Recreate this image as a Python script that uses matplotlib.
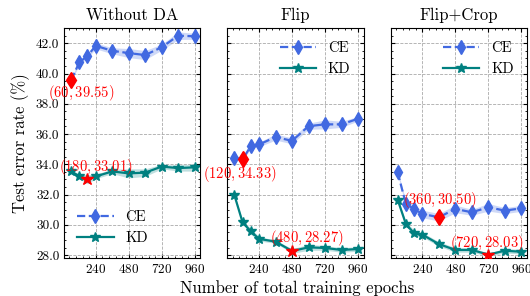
import numpy as np
import matplotlib
matplotlib.use("Agg")
import matplotlib.pyplot as plt
from matplotlib.ticker import AutoMinorLocator, FormatStrFormatter

plt.rcParams['font.family'] = 'serif'
plt.rcParams['font.serif'] = ['cmr10']
plt.rcParams['mathtext.fontset'] = 'cm'
plt.rcParams['axes.formatter.use_mathtext'] = True

epochs = [60, 120, 180, 240, 360, 480, 600, 720, 840, 960]
titles = ['Without DA', 'Flip', 'Flip+Crop']

# CE curves (mean, std)
ce_none = [39.55, 40.73, 41.17, 41.83, 41.50, 41.35, 41.22, 41.74, 42.50, 42.46]
ce_flip = [34.43, 34.33, 35.20, 35.31, 35.80, 35.55, 36.52, 36.64, 36.64, 37.01]
ce_crop = [33.48, 31.38, 31.05, 30.72, 30.50, 31.05, 30.83, 31.16, 30.94, 31.09]
ce_none_std = [0.10, 0.15, 0.15, 0.20, 0.20, 0.30, 0.30, 0.20, 0.25, 0.20]
ce_flip_std = [0.10, 0.10, 0.15, 0.15, 0.20, 0.20, 0.20, 0.30, 0.20, 0.15]
ce_crop_std = [0.15, 0.20, 0.20, 0.25, 0.25, 0.25, 0.20, 0.25, 0.20, 0.20]

# KD curves (mean, std)
kd_none = [33.55, 33.20, 33.01, 33.20, 33.53, 33.40, 33.45, 33.85, 33.75, 33.80]
kd_flip = [31.98, 30.17, 29.57, 29.07, 28.89, 28.27, 28.51, 28.47, 28.34, 28.40]
kd_crop = [31.67, 30.06, 29.44, 29.35, 28.73, 28.34, 28.34, 28.03, 28.29, 28.22]
kd_none_std = [0.10, 0.15, 0.30, 0.15, 0.15, 0.30, 0.25, 0.15, 0.20, 0.25]
kd_flip_std = [0.10, 0.10, 0.20, 0.15, 0.10, 0.15, 0.20, 0.15, 0.15, 0.15]
kd_crop_std = [0.10, 0.15, 0.20, 0.15, 0.15, 0.15, 0.15, 0.10, 0.15, 0.15]

ce_all = [ce_none, ce_flip, ce_crop]
ce_std_all = [ce_none_std, ce_flip_std, ce_crop_std]
kd_all = [kd_none, kd_flip, kd_crop]
kd_std_all = [kd_none_std, kd_flip_std, kd_crop_std]

# annotation offsets (pixels) for the min markers
ce_off = [(10, -13), (-3, -15), (1, 17)]
kd_off = [(8, 12), (15, 13), (-2, 12)]
legend_loc = ['lower left', 'upper right', 'upper right']

ce_col = '#4169E1'
kd_col = '#008080'

fig, axes = plt.subplots(1, 3, figsize=(5.3, 2.96), dpi=100, sharey=True)
fig.subplots_adjust(left=0.121, right=0.994, top=0.905, bottom=0.128, wspace=0.2)

for i, ax in enumerate(axes):
    x = np.array(epochs)
    ce = np.array(ce_all[i]); ces = np.array(ce_std_all[i])
    kd = np.array(kd_all[i]); kds = np.array(kd_std_all[i])

    ax.fill_between(x, ce - ces, ce + ces, color=ce_col, alpha=0.25, lw=0)
    ax.plot(x, ce, ls='--', marker='d', color=ce_col, ms=7, lw=1.6, label='CE')
    ax.fill_between(x, kd - kds, kd + kds, color=kd_col, alpha=0.25, lw=0)
    ax.plot(x, kd, ls='-', marker='*', color=kd_col, ms=7, lw=1.6, label='KD')

    j = int(np.argmin(ce))
    ax.plot(x[j], ce[j], marker='d', color='red', ms=8, zorder=5)
    ax.annotate(r'$\mathbf{(%d, %.2f)}$' % (x[j], ce[j]), (x[j], ce[j]),
                xytext=ce_off[i], textcoords='offset pixels', color='red',
                fontsize=10.5, ha='center', va='center', annotation_clip=False)
    k = int(np.argmin(kd))
    ax.plot(x[k], kd[k], marker='*', color='red', ms=9, zorder=5)
    ax.annotate(r'$\mathbf{(%d, %.2f)}$' % (x[k], kd[k]), (x[k], kd[k]),
                xytext=kd_off[i], textcoords='offset pixels', color='red',
                fontsize=10.5, ha='center', va='center', annotation_clip=False)

    ax.set_title(titles[i], fontsize=12)
    ax.set_xlim(10, 1000)
    ax.set_ylim(27.8, 43.0)
    ax.set_xticks([240, 480, 720, 960])
    ax.set_yticks(np.arange(28, 43, 2))
    ax.yaxis.set_major_formatter(FormatStrFormatter('%.1f'))
    ax.xaxis.set_minor_locator(AutoMinorLocator(5))
    ax.yaxis.set_minor_locator(AutoMinorLocator(4))
    ax.tick_params(which='both', direction='in', top=True, right=True, labelsize=9.5)
    ax.tick_params(which='major', length=3)
    ax.tick_params(which='minor', length=1.5)
    ax.grid(True, ls='--', color='#aaaaaa', lw=0.6)
    ax.legend(loc=legend_loc[i], frameon=False, fontsize=10.5, handlelength=2.5)

axes[0].set_ylabel('Test error rate (%)', fontsize=12)
fig.supxlabel('Number of total training epochs', fontsize=12, x=0.56, y=0.0)

fig.savefig('out.png', dpi=100)
